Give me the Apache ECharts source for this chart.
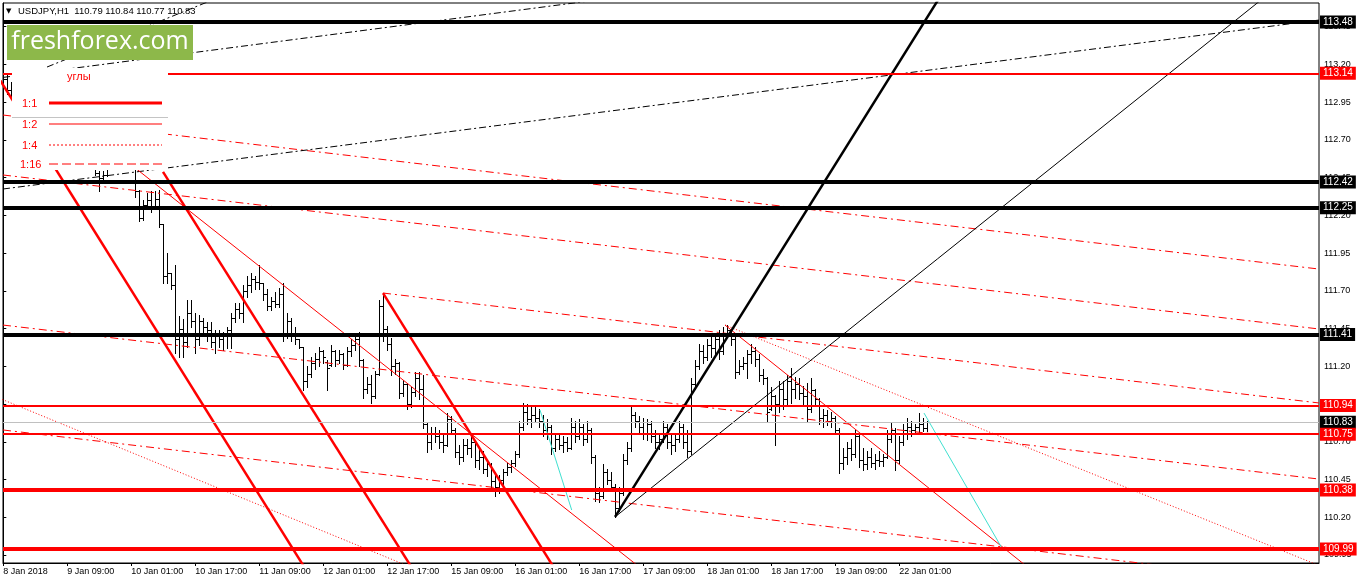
<!DOCTYPE html>
<html>
<head>
<meta charset="utf-8">
<title>USDJPY,H1</title>
<script src="https://cdn.jsdelivr.net/npm/echarts@6/dist/echarts.min.js"></script>
<style>
html,body{margin:0;padding:0;background:#fff}
#main{width:1358px;height:584px}
</style>
</head>
<body>
<div id="main"></div>
<script>
// H1 bars from 8 Jan 17:00 to 22 Jan 08:00: [open, high, low, close]
var bars = [
  [113.08,113.15,113.02,113.10],[113.10,113.13,113.00,113.03],[113.03,113.08,112.97,113.05],[113.05,113.10,113.01,113.06],
  [113.06,113.12,113.03,113.09],[113.09,113.11,113.00,113.02],[113.02,113.06,112.95,112.98],[112.98,113.03,112.92,113.00],
  [113.00,113.04,112.90,112.93],[112.93,112.97,112.70,112.75],[112.75,112.82,112.62,112.70],[112.70,112.78,112.64,112.74],
  [112.74,112.80,112.68,112.72],[112.72,112.76,112.62,112.66],[112.66,112.74,112.60,112.70],[112.70,112.79,112.66,112.77],
  [112.77,112.84,112.72,112.80],[112.80,112.85,112.71,112.74],[112.74,112.78,112.62,112.65],[112.65,112.70,112.56,112.60],
  [112.60,112.66,112.54,112.62],[112.62,112.68,112.55,112.58],[112.58,112.62,112.52,112.55],[112.55,112.58,112.47,112.48],
  [112.48,112.49,112.36,112.45],[112.45,112.49,112.42,112.47],[112.47,112.56,112.46,112.53],[112.53,112.62,112.51,112.58],
  [112.58,112.66,112.54,112.60],[112.60,112.65,112.55,112.57],[112.57,112.63,112.52,112.60],[112.60,112.67,112.56,112.62],
  [112.62,112.66,112.53,112.56],[112.56,112.58,112.32,112.36],[112.36,112.37,112.16,112.18],[112.18,112.30,112.17,112.27],
  [112.27,112.35,112.24,112.30],[112.30,112.36,112.22,112.25],[112.25,112.36,112.24,112.31],[112.31,112.37,112.12,112.14],
  [112.14,112.14,111.75,111.80],[111.80,111.95,111.75,111.82],[111.82,111.82,111.71,111.74],[111.74,111.87,111.29,111.38],
  [111.38,111.53,111.26,111.45],[111.45,111.51,111.26,111.36],[111.36,111.64,111.33,111.55],[111.55,111.64,111.46,111.50],
  [111.50,111.55,111.29,111.38],[111.38,111.54,111.34,111.50],[111.50,111.52,111.42,111.46],[111.46,111.49,111.37,111.44],
  [111.44,111.49,111.33,111.36],[111.36,111.44,111.29,111.40],[111.40,111.44,111.33,111.38],[111.38,111.43,111.31,111.41],
  [111.41,111.46,111.32,111.44],[111.44,111.55,111.32,111.52],[111.52,111.62,111.49,111.58],[111.58,111.62,111.52,111.55],
  [111.55,111.74,111.49,111.70],[111.70,111.80,111.66,111.74],[111.74,111.82,111.69,111.78],[111.78,111.80,111.71,111.76],
  [111.76,111.87,111.71,111.75],[111.75,111.75,111.64,111.68],[111.68,111.71,111.57,111.60],[111.60,111.66,111.57,111.63],
  [111.63,111.69,111.59,111.61],[111.61,111.72,111.59,111.68],[111.68,111.75,111.37,111.42],[111.42,111.55,111.39,111.50],
  [111.50,111.52,111.37,111.40],[111.40,111.46,111.35,111.38],[111.38,111.38,111.32,111.33],[111.33,111.33,111.04,111.10],
  [111.10,111.20,111.06,111.15],[111.15,111.26,111.13,111.22],[111.22,111.29,111.18,111.25],[111.25,111.33,111.20,111.30],
  [111.30,111.31,111.22,111.26],[111.23,111.24,111.04,111.19],[111.21,111.34,111.20,111.30],[111.30,111.31,111.20,111.24],
  [111.24,111.31,111.22,111.28],[111.28,111.29,111.18,111.21],[111.21,111.33,111.20,111.30],[111.30,111.38,111.27,111.34],
  [111.34,111.42,111.31,111.38],[111.38,111.43,111.20,111.24],[111.24,111.25,110.99,111.05],[111.05,111.13,111.02,111.08],
  [111.08,111.14,110.96,111.00],[111.00,111.17,110.99,111.15],[111.15,111.64,111.14,111.60],[111.60,111.686,111.37,111.45],
  [111.45,111.47,111.31,111.35],[111.35,111.39,111.14,111.20],[111.20,111.25,111.15,111.22],[111.22,111.23,110.99,111.02],
  [111.02,111.11,111.00,111.08],[111.08,111.09,110.92,110.95],[110.95,111.06,110.93,111.03],[111.03,111.16,111.00,111.12],
  [111.12,111.16,110.98,111.05],[111.05,111.14,110.79,110.82],[110.82,110.83,110.63,110.70],[110.70,110.80,110.65,110.76],
  [110.76,110.80,110.70,110.74],[110.74,110.78,110.66,110.70],[110.70,110.76,110.63,110.68],[110.68,110.89,110.67,110.85],
  [110.85,110.87,110.75,110.78],[110.78,110.79,110.60,110.63],[110.63,110.68,110.55,110.60],[110.60,110.72,110.57,110.68],
  [110.68,110.72,110.62,110.66],[110.66,110.74,110.60,110.70],[110.70,110.71,110.53,110.58],[110.58,110.65,110.52,110.60],
  [110.60,110.64,110.49,110.52],[110.52,110.58,110.47,110.55],[110.55,110.56,110.40,110.44],[110.44,110.50,110.34,110.40],
  [110.40,110.48,110.36,110.45],[110.45,110.52,110.39,110.50],[110.50,110.56,110.48,110.53],[110.53,110.58,110.50,110.56],
  [110.56,110.64,110.54,110.62],[110.62,110.84,110.60,110.80],[110.80,110.96,110.78,110.90],[110.90,110.95,110.82,110.85],
  [110.85,110.93,110.80,110.88],[110.88,110.94,110.83,110.86],[110.86,110.92,110.80,110.84],[110.84,110.88,110.74,110.78],
  [110.78,110.85,110.72,110.80],[110.80,110.81,110.62,110.66],[110.66,110.76,110.64,110.72],[110.72,110.75,110.65,110.68],
  [110.68,110.74,110.63,110.70],[110.70,110.73,110.64,110.66],[110.66,110.86,110.65,110.80],[110.80,110.84,110.70,110.74],
  [110.74,110.85,110.72,110.80],[110.80,110.82,110.68,110.72],[110.72,110.84,110.70,110.78],[110.78,110.79,110.56,110.60],
  [110.60,110.61,110.31,110.36],[110.36,110.40,110.30,110.34],[110.34,110.55,110.33,110.50],[110.50,110.52,110.42,110.45],
  [110.45,110.50,110.38,110.40],[110.40,110.42,110.20,110.26],[110.26,110.40,110.24,110.36],[110.36,110.62,110.35,110.58],
  [110.58,110.70,110.55,110.66],[110.66,110.93,110.64,110.88],[110.88,110.90,110.80,110.84],[110.84,110.87,110.76,110.80],
  [110.80,110.86,110.72,110.76],[110.76,110.85,110.71,110.82],[110.82,110.84,110.70,110.74],[110.74,110.78,110.66,110.70],
  [110.70,110.76,110.65,110.72],[110.72,110.84,110.70,110.80],[110.80,110.82,110.66,110.70],[110.70,110.76,110.62,110.68],
  [110.68,110.75,110.64,110.72],[110.72,110.84,110.70,110.80],[110.80,110.82,110.66,110.70],[110.70,110.78,110.60,110.64],
  [110.64,111.12,110.62,111.08],[111.08,111.24,111.05,111.20],[111.20,111.35,111.18,111.30],[111.30,111.34,111.22,111.26],
  [111.26,111.38,111.24,111.34],[111.34,111.40,111.26,111.32],[111.32,111.42,111.28,111.38],[111.38,111.44,111.25,111.30],
  [111.30,111.46,111.28,111.42],[111.42,111.474,111.40,111.44],[111.44,111.45,111.34,111.38],[111.38,111.40,111.12,111.16],
  [111.16,111.24,111.15,111.20],[111.20,111.26,111.18,111.22],[111.22,111.31,111.12,111.28],[111.28,111.35,111.22,111.30],
  [111.30,111.33,111.20,111.25],[111.25,111.28,111.10,111.14],[111.14,111.18,111.08,111.12],[111.12,111.13,110.84,110.90],
  [110.92,111.06,110.91,111.00],[111.00,111.01,110.68,110.95],[110.95,111.10,110.90,111.05],[111.05,111.10,110.92,110.98],
  [110.98,111.14,110.95,111.10],[111.10,111.19,110.96,111.05],[111.05,111.13,110.99,111.08],[111.08,111.12,110.98,111.02],
  [111.02,111.07,110.94,111.00],[111.00,111.09,110.84,110.92],[110.92,111.12,110.90,111.04],[111.04,111.05,110.94,110.98],
  [110.98,110.99,110.82,110.86],[110.86,110.92,110.80,110.88],[110.88,110.91,110.81,110.84],[110.84,110.90,110.80,110.86],
  [110.86,110.87,110.75,110.78],[110.78,110.79,110.49,110.56],[110.56,110.66,110.52,110.60],[110.60,110.70,110.55,110.66],
  [110.66,110.72,110.58,110.62],[110.62,110.78,110.60,110.74],[110.74,110.76,110.53,110.58],[110.58,110.66,110.51,110.55],
  [110.55,110.64,110.52,110.60],[110.60,110.66,110.53,110.56],[110.56,110.62,110.52,110.58],[110.58,110.64,110.54,110.57],
  [110.57,110.62,110.54,110.60],[110.60,110.78,110.59,110.72],[110.72,110.83,110.70,110.78],[110.78,110.79,110.51,110.58],
  [110.58,110.74,110.56,110.70],[110.70,110.82,110.68,110.78],[110.78,110.86,110.72,110.80],[110.80,110.84,110.74,110.78],
  [110.78,110.82,110.76,110.80],[110.80,110.89,110.76,110.82],[110.82,110.86,110.77,110.79],[110.79,110.84,110.77,110.83]
];

// time axis: one label every 16 bars
var tickBars = [0, 16, 32, 48, 64, 80, 96, 112, 128, 144, 160, 176, 192, 208, 224];
var tickLabels = ['8 Jan 2018', '9 Jan 09:00', '10 Jan 01:00', '10 Jan 17:00', '11 Jan 09:00', '12 Jan 01:00',
  '12 Jan 17:00', '15 Jan 09:00', '16 Jan 01:00', '16 Jan 17:00', '17 Jan 09:00', '18 Jan 01:00',
  '18 Jan 17:00', '19 Jan 09:00', '22 Jan 01:00'];
var priceTicks = [109.95, 110.20, 110.45, 110.70, 110.95, 111.20, 111.45, 111.70, 111.95, 112.20, 112.45, 112.70, 112.95, 113.20, 113.45];

// horizontal levels and their kind
var levelValues = [113.48, 113.14, 112.42, 112.25, 111.41, 110.94, 110.83, 110.75, 110.38, 109.99];
var levelKinds = ['black', 'red', 'black', 'black', 'black', 'red', 'price', 'red', 'redBold', 'redBold'];

// drawn objects: [bar1, price1, bar2, price2]
var channelLines = [[-13.33, 113.626, 80.38, 109.652], [39.93, 112.487, 107.2, 109.652], [94.93, 111.685, 142.68, 109.652]];
var fanBold = [[152.93, 110.202, 233.68, 113.626]];
var fanThin = [[152.93, 110.202, 314.43, 113.626]];
var thinRedLines = [[29.18, 112.593, 169.43, 109.652], [180.43, 111.473, 266.36, 109.652]];
var dashRedLines = [[-0.075, 112.864, 328.9, 111.844], [-0.075, 112.467, 328.9, 111.447], [-0.075, 111.473, 328.9, 110.453],
  [94.93, 111.685, 328.9, 110.957], [-0.075, 110.778, 328.9, 109.758]];
var dotRedLines = [[-3, 111.01, 121.88, 109.652], [180.43, 111.473, 350.2, 109.652]];
var dashBlackLines = [[-0.075, 112.374, 328.9, 113.493], [-0.075, 113.113, 148.43, 113.626], [10.93, 113.182, 52.28, 113.626]];
var cyanLines = [[134.18, 110.910, 142.1, 110.248], [230.18, 110.890, 249.93, 109.983]];

var FONT = '"Liberation Sans", Arial, sans-serif';
var myChart = echarts.init(document.getElementById('main'));

var barData = bars.map(function (b, i) { return [i, b[0], b[1], b[2], b[3]]; });

function renderBar(params, api) {
  var i = api.value(0);
  var o = api.coord([i, api.value(1)]);
  var h = api.coord([i, api.value(2)]);
  var l = api.coord([i, api.value(3)]);
  var c = api.coord([i, api.value(4)]);
  var px = Math.round(h[0]) + 0.5;
  var oy = Math.round(o[1]) + 0.5, cy = Math.round(c[1]) + 0.5;
  var st = { stroke: '#000', lineWidth: 1 };
  return {
    type: 'group',
    children: [
      { type: 'line', shape: { x1: px, y1: Math.round(h[1]), x2: px, y2: Math.round(l[1]) + 1 }, style: st },
      { type: 'line', shape: { x1: px - 2.5, y1: oy, x2: px - 0.5, y2: oy }, style: st },
      { type: 'line', shape: { x1: px + 0.5, y1: cy, x2: px + 2.5, y2: cy }, style: st }
    ]
  };
}

var series = [{
  type: 'custom',
  renderItem: renderBar,
  data: barData,
  encode: { x: 0, y: [1, 2, 3, 4] },
  clip: true,
  silent: true,
  z: 2
}];

function addLines(list, color, width, dash, z) {
  list.forEach(function (l) {
    series.push({
      type: 'line',
      data: [[l[0], l[1]], [l[2], l[3]]],
      symbol: 'none',
      lineStyle: { color: color, width: width, type: dash },
      clip: true,
      silent: true,
      z: z
    });
  });
}

addLines(dashRedLines, '#ff0000', 1, [8, 4, 2, 4], 3);
addLines(dotRedLines, '#ff0000', 1, [1, 2], 3);
addLines(dashBlackLines, '#000000', 1, [7, 3, 2, 3], 3);
addLines(thinRedLines, '#ff0000', 1, 'solid', 3);
addLines(cyanLines, '#40e0d0', 1, 'solid', 3);
addLines(channelLines, '#ff0000', 2.5, 'solid', 4);
addLines(fanThin, '#000000', 1, 'solid', 4);
addLines(fanBold, '#000000', 2.5, 'solid', 4);

var levelStyle = {
  black: { color: '#000000', width: 4, bg: '#000000' },
  red: { color: '#ff0000', width: 2, bg: '#ff0000' },
  redBold: { color: '#ff0000', width: 4, bg: '#ff0000' },
  price: { color: '#c0c0c0', width: 1, bg: '#000000' }
};

series.push({
  type: 'line',
  data: [],
  silent: true,
  z: 5,
  markLine: {
    symbol: 'none',
    silent: true,
    animation: false,
    data: levelValues.map(function (v, k) {
      var s = levelStyle[levelKinds[k]];
      return {
        yAxis: v,
        lineStyle: { color: s.color, width: s.width, type: 'solid' },
        label: {
          show: true,
          position: 'end',
          distance: 1,
          formatter: v.toFixed(2),
          color: '#ffffff',
          backgroundColor: s.bg,
          padding: [1, 3, 1, 3],
          fontSize: 10,
          lineHeight: 11,
          fontFamily: FONT
        }
      };
    })
  }
});

var legendItems = [
  { text: '1:1', y: 103, dash: 'solid', width: 3, x: 22 },
  { text: '1:2', y: 124, dash: 'solid', width: 1.2, x: 22 },
  { text: '1:4', y: 145, dash: [2, 2], width: 1, x: 22 },
  { text: '1:16', y: 164, dash: [9, 4], width: 1, x: 20 }
];

var graphics = [
  { type: 'text', x: 6, y: 11, z: 100, style: { text: '▼', fill: '#000', font: '7px "DejaVu Sans"', verticalAlign: 'middle' } },
  { type: 'text', x: 18, y: 11, z: 100, style: { text: 'USDJPY,H1  110.79 110.84 110.77 110.83', fill: '#000', font: '9.5px ' + FONT, verticalAlign: 'middle' } },
  { type: 'rect', z: 100, shape: { x: 7, y: 25, width: 186, height: 35 }, style: { fill: '#8db84a' } },
  { type: 'text', x: 100, y: 42, z: 101, style: { text: 'freshforex.com', fill: '#ffffff', font: '25px "Open Sans"', align: 'center', verticalAlign: 'middle' } },
  { type: 'rect', z: 100, shape: { x: 12, y: 68, width: 156, height: 102 }, style: { fill: '#ffffff' } },
  { type: 'line', z: 101, shape: { x1: 12, y1: 117.5, x2: 168, y2: 117.5 }, style: { stroke: '#c4c4c4', lineWidth: 1 } },
  { type: 'text', x: 67, y: 77, z: 101, style: { text: 'углы', fill: '#ff0000', font: '11px ' + FONT, verticalAlign: 'middle' } }
];
legendItems.forEach(function (it) {
  graphics.push({ type: 'text', x: it.x, y: it.y + 0.5, z: 101, style: { text: it.text, fill: '#ff0000', font: '11px ' + FONT, verticalAlign: 'middle' } });
  graphics.push({ type: 'line', z: 101, shape: { x1: 49, y1: it.y, x2: 162, y2: it.y }, style: { stroke: '#ff0000', lineWidth: it.width, lineDash: it.dash === 'solid' ? null : it.dash } });
});

var option = {
  animation: false,
  backgroundColor: '#ffffff',
  grid: { left: 3, right: 39, top: 3, bottom: 21, show: true, borderColor: '#000', borderWidth: 1, backgroundColor: '#fff' },
  xAxis: {
    type: 'value',
    min: -0.075,
    max: 328.925,
    splitLine: { show: false },
    axisLine: { show: true, lineStyle: { color: '#000' } },
    axisTick: { show: true, length: 3, customValues: tickBars, lineStyle: { color: '#000' } },
    axisLabel: {
      customValues: tickBars,
      formatter: function (v) { return tickLabels[tickBars.indexOf(Math.round(v))] || ''; },
      align: 'left',
      color: '#000',
      fontSize: 9,
      fontFamily: FONT,
      margin: 4
    }
  },
  yAxis: {
    type: 'value',
    position: 'right',
    min: 109.897,
    max: 113.606,
    splitLine: { show: false },
    axisLine: { show: true, lineStyle: { color: '#000' } },
    axisTick: { show: true, length: 3, customValues: priceTicks, lineStyle: { color: '#000' } },
    axisLabel: {
      customValues: priceTicks,
      formatter: function (v) { return v.toFixed(2); },
      color: '#000',
      fontSize: 9,
      fontFamily: FONT,
      margin: 5
    }
  },
  graphic: { elements: graphics },
  series: series
};

myChart.setOption(option);
</script>
</body>
</html>
